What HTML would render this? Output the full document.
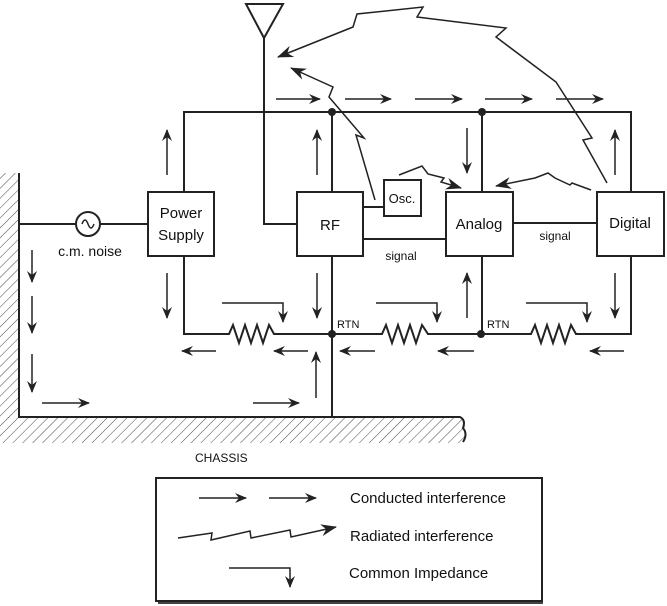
<!DOCTYPE html>
<html><head><meta charset="utf-8"><style>
html,body{margin:0;padding:0;background:#fff;}
svg{display:block;font-family:"Liberation Sans",Arial,sans-serif;}
</style></head><body>
<svg width="667" height="606" viewBox="0 0 667 606" xmlns="http://www.w3.org/2000/svg">
<defs>
<pattern id="h" width="7" height="7" patternUnits="userSpaceOnUse" patternTransform="rotate(45)">
<line x1="0" y1="0" x2="0" y2="7" stroke="#333" stroke-width="0.9"/>
</pattern>
<marker id="a" markerWidth="12" markerHeight="10" refX="11" refY="5" orient="auto" markerUnits="userSpaceOnUse">
<path d="M0,0 L12,5 L0,10 L4,5 Z" fill="#222"/>
</marker>
<marker id="b" markerWidth="16" markerHeight="12" refX="15" refY="6" orient="auto" markerUnits="userSpaceOnUse">
<path d="M0,0 L16,6 L0,12 L5,6 Z" fill="#222"/>
</marker>
</defs>
<!-- chassis hatching -->
<rect x="0" y="173" width="19" height="245" fill="url(#h)"/>
<path d="M0,417 L462,417 Q468,425 462,432 Q470,438 464,443 L0,443 Z" fill="url(#h)"/>
<path d="M19,173 L19,417 L460,417 Q466,420 463,428 Q468,434 463,442" fill="none" stroke="#222" stroke-width="2"/>

<g fill="none" stroke="#222" stroke-width="2">
<!-- antenna -->
<path d="M246,4 L283,4 L264,38 Z"/>
<path d="M264,38 L264,224 L297,224"/>
<!-- top bus -->
<path d="M184,192 L184,112 L631,112 L631,192"/>
<line x1="332" y1="112" x2="332" y2="192"/>
<line x1="482" y1="112" x2="482" y2="192"/>
<!-- boxes -->
<rect x="148" y="192" width="66" height="64"/>
<rect x="297" y="192" width="66" height="64"/>
<rect x="384" y="180" width="37" height="36"/>
<rect x="446" y="192" width="67" height="64"/>
<rect x="597" y="192" width="67" height="64"/>
<line x1="363" y1="207" x2="384" y2="207"/>
<line x1="363" y1="239" x2="446" y2="239"/>
<line x1="513" y1="223" x2="597" y2="223"/>
<!-- noise wire -->
<line x1="19" y1="224" x2="76" y2="224"/>
<line x1="100" y1="224" x2="148" y2="224"/>
<circle cx="88" cy="224" r="12"/>
<!-- bottom -->
<path d="M184,256 L184,334 L229,334 L233,325 L239,343 L245,325 L251,343 L257,325 L263,343 L269,325 L274,334 L382,334 L386,325 L392,343 L398,325 L404,343 L410,325 L416,343 L422,325 L428,334 L531,334 L535,325 L541,343 L547,325 L553,343 L559,325 L565,343 L571,325 L576,334 L631,334 L631,256"/>
<line x1="332" y1="256" x2="332" y2="417"/>
<line x1="482" y1="256" x2="482" y2="334"/>
</g>
<path d="M82,224 Q85,216 88,224 Q91,232 94,224" fill="none" stroke="#222" stroke-width="1.5"/>
<g fill="#222"><circle cx="332" cy="112" r="4"/><circle cx="482" cy="112" r="4"/><circle cx="332" cy="334" r="4"/><circle cx="481" cy="334" r="4"/></g>

<!-- conducted arrows -->
<g stroke="#222" stroke-width="1.5" marker-end="url(#a)">
<line x1="276" y1="99" x2="320" y2="99"/><line x1="345" y1="99" x2="391" y2="99"/><line x1="415" y1="99" x2="462" y2="99"/><line x1="485" y1="99" x2="532" y2="99"/><line x1="556" y1="99" x2="603" y2="99"/>
<line x1="167" y1="175" x2="167" y2="130"/><line x1="317" y1="175" x2="317" y2="130"/><line x1="467" y1="128" x2="467" y2="173"/><line x1="615" y1="175" x2="615" y2="130"/>
<line x1="167" y1="273" x2="167" y2="318"/><line x1="317" y1="273" x2="317" y2="318"/><line x1="467" y1="318" x2="467" y2="273"/><line x1="615" y1="273" x2="615" y2="318"/>
<line x1="216" y1="351" x2="182" y2="351"/><line x1="308" y1="351" x2="274" y2="351"/><line x1="375" y1="351" x2="340" y2="351"/><line x1="474" y1="351" x2="438" y2="351"/><line x1="624" y1="351" x2="590" y2="351"/>
<line x1="316" y1="398" x2="316" y2="352"/>
<line x1="32" y1="250" x2="32" y2="282"/><line x1="32" y1="296" x2="32" y2="333"/><line x1="32" y1="354" x2="32" y2="392"/>
<line x1="42" y1="403" x2="89" y2="403"/><line x1="253" y1="403" x2="299" y2="403"/>
<line x1="199" y1="498" x2="246" y2="498"/><line x1="269" y1="498" x2="316" y2="498"/>
</g>
<!-- common impedance -->
<g fill="none" stroke="#222" stroke-width="1.5" marker-end="url(#a)">
<path d="M222,303 L283,303 L283,322"/>
<path d="M376,303 L437,303 L437,322"/>
<path d="M526,303 L587,303 L587,322"/>
<path d="M229,568 L290,568 L290,587"/>
</g>
<!-- radiated -->
<g fill="none" stroke="#222" stroke-width="1.5" marker-end="url(#b)">
<path d="M607,183 L583,140 L592,138 L556,82 L496,37 L506,28 L417,17 L423,7 L357,14 L353,27 L278,57"/>
<path d="M375,200 L356,135 L364,138 L329,97 L333,87 L291,68"/>
<path d="M399,175 L422,166 L428,174 L444,178 L441,182 L461,188"/>
<path d="M591,190 L572,183 L570,185 L555,178 L548,173 L535,178 L496,186"/>
<path d="M178,538 L212,533 L211,540 L250,531 L251,538 L290,530 L291,537 L336,527"/>
</g>

<g fill="#111">
<text x="181" y="218" font-size="15" text-anchor="middle">Power</text>
<text x="181" y="240" font-size="15" text-anchor="middle">Supply</text>
<text x="330" y="230" font-size="15" text-anchor="middle">RF</text>
<text x="402" y="203" font-size="13" text-anchor="middle">Osc.</text>
<text x="479" y="229" font-size="15" text-anchor="middle">Analog</text>
<text x="630" y="228" font-size="15" text-anchor="middle">Digital</text>
<text x="401" y="260" font-size="12" text-anchor="middle">signal</text>
<text x="555" y="240" font-size="12" text-anchor="middle">signal</text>
<text x="90" y="256" font-size="14" text-anchor="middle">c.m. noise</text>
<text x="337" y="328" font-size="11">RTN</text>
<text x="487" y="328" font-size="11">RTN</text>
<text x="195" y="462" font-size="12">CHASSIS</text>
<text x="350" y="503" font-size="15">Conducted interference</text>
<text x="350" y="541" font-size="15">Radiated interference</text>
<text x="349" y="578" font-size="15">Common Impedance</text>
</g>
<rect x="156" y="478" width="386" height="123" fill="none" stroke="#222" stroke-width="2"/>
<line x1="158" y1="603" x2="543" y2="603" stroke="#444" stroke-width="2"/>
</svg>
</body></html>
